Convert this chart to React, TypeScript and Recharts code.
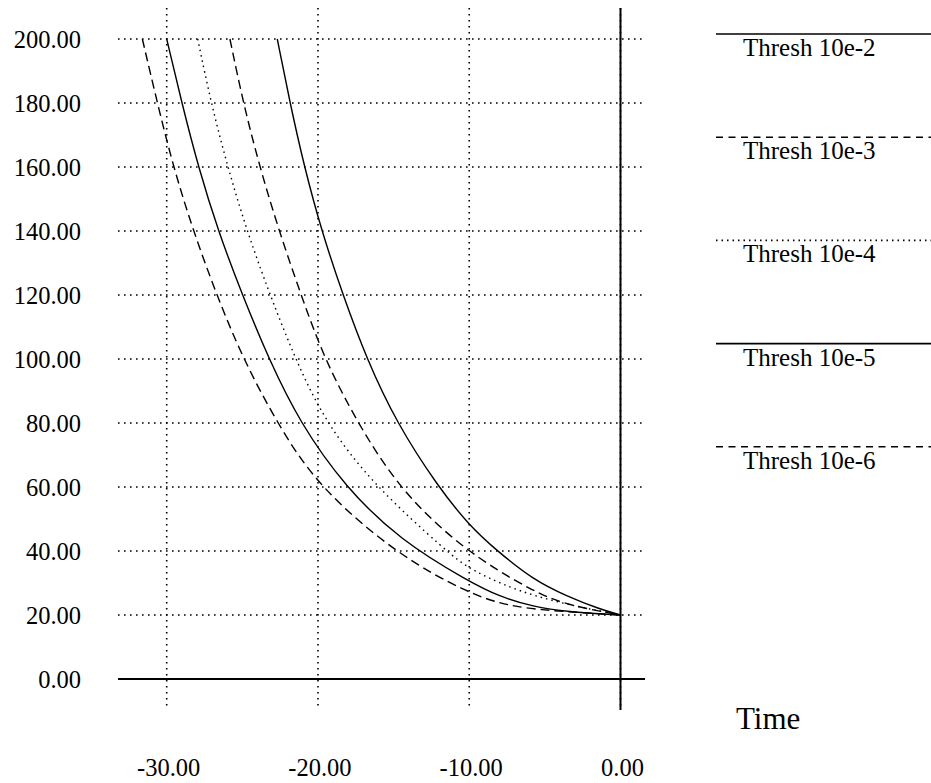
import {
  CartesianGrid,
  Legend,
  Line,
  LineChart,
  ReferenceLine,
  XAxis,
  YAxis,
} from "recharts";

const xTicks = [-30, -20, -10, 0];
const yTicks = [0, 20, 40, 60, 80, 100, 120, 140, 160, 180, 200];

// sorted by time
const thresh2 = [
  { x: -22.69, y: 200 },
  { x: -21.85, y: 180 },
  { x: -20.9, y: 160 },
  { x: -19.76, y: 140 },
  { x: -18.35, y: 120 },
  { x: -16.78, y: 100 },
  { x: -14.8, y: 80 },
  { x: -12.05, y: 60 },
  { x: -10, y: 48 },
  { x: -8.2, y: 40.2 },
  { x: -5.77, y: 31 },
  { x: -3.56, y: 25.9 },
  { x: -1.36, y: 21.8 },
  { x: 0, y: 20 },
];
const thresh3 = [
  { x: -25.82, y: 200 },
  { x: -24.94, y: 180 },
  { x: -23.85, y: 160 },
  { x: -22.57, y: 140 },
  { x: -21.12, y: 120 },
  { x: -19.58, y: 100 },
  { x: -17.38, y: 80 },
  { x: -14.58, y: 59 },
  { x: -10.3, y: 40 },
  { x: -5.77, y: 27.3 },
  { x: -3.56, y: 23.1 },
  { x: 0, y: 20 },
];
const thresh4 = [
  { x: -27.95, y: 200 },
  { x: -27.07, y: 180 },
  { x: -25.97, y: 160 },
  { x: -24.7, y: 140 },
  { x: -23.17, y: 120 },
  { x: -21.5, y: 100 },
  { x: -19.5, y: 80 },
  { x: -16.2, y: 60 },
  { x: -11.5, y: 40 },
  { x: -10, y: 34.1 },
  { x: -5.77, y: 25.3 },
  { x: 0, y: 20 },
];
const thresh5 = [
  { x: -30, y: 200 },
  { x: -29, y: 180 },
  { x: -27.91, y: 160 },
  { x: -26.6, y: 140 },
  { x: -25, y: 120 },
  { x: -23.25, y: 100 },
  { x: -21.19, y: 80 },
  { x: -18.2, y: 60 },
  { x: -14.58, y: 43.4 },
  { x: -10, y: 30.4 },
  { x: -7.97, y: 25.7 },
  { x: -5.77, y: 22.6 },
  { x: -3.56, y: 21 },
  { x: 0, y: 20 },
];
const thresh6 = [
  { x: -31.61, y: 200 },
  { x: -30.62, y: 180 },
  { x: -29.56, y: 160 },
  { x: -28.24, y: 140 },
  { x: -26.7, y: 120 },
  { x: -24.95, y: 100 },
  { x: -22.7, y: 80 },
  { x: -20, y: 60 },
  { x: -14.58, y: 38.2 },
  { x: -10, y: 26.8 },
  { x: -7.97, y: 23.6 },
  { x: -5.77, y: 21.6 },
  { x: 0, y: 20 },
];

const DASHED = "9 5";
const DOTTED = "1.5 4";

const series = [
  { name: "Thresh 10e-2", data: thresh2, dash: undefined },
  { name: "Thresh 10e-3", data: thresh3, dash: DASHED },
  { name: "Thresh 10e-4", data: thresh4, dash: DOTTED },
  { name: "Thresh 10e-5", data: thresh5, dash: undefined },
  { name: "Thresh 10e-6", data: thresh6, dash: DASHED },
];

const FONT = "Liberation Serif, DejaVu Serif, Times New Roman, serif";

function XTick({ x, y, payload }: any) {
  return (
    <text
      x={x + 2}
      y={y + 65.5}
      textAnchor="middle"
      style={{ fontFamily: FONT, fontSize: 24.5 }}
      fill="#000"
    >
      {Number(payload.value).toFixed(2)}
    </text>
  );
}

function YTick({ x, y, payload }: any) {
  return (
    <text
      x={x}
      y={y + 9.3}
      textAnchor="end"
      style={{ fontFamily: FONT, fontSize: 24.5 }}
      fill="#000"
    >
      {Number(payload.value).toFixed(2)}
    </text>
  );
}

function LegendBox() {
  return (
    <svg width={215} height={480} style={{ display: "block" }}>
      {series.map((s, i) => {
        const ly = 34 + i * 103.2;
        const dash = s.dash === DASHED ? "7 5.5" : s.dash;
        return (
          <g key={s.name}>
            <line
              x1={0}
              x2={215}
              y1={ly}
              y2={ly}
              stroke="#000"
              strokeWidth={1.6}
              strokeDasharray={dash}
            />
            <text
              x={27}
              y={ly + 22}
              style={{ fontFamily: FONT, fontSize: 25 }}
              fill="#000"
            >
              {s.name}
            </text>
          </g>
        );
      })}
    </svg>
  );
}

function TimeLabel({ viewBox }: any) {
  return (
    <text
      x={viewBox.x + viewBox.width + 91}
      y={728.5}
      style={{ fontFamily: FONT, fontSize: 31 }}
      fill="#000"
    >
      Time
    </text>
  );
}

export default function App() {
  return (
    <div style={{ position: "absolute", left: 0, top: 0, background: "#fff" }}>
      <LineChart
        width={931}
        height={783}
        margin={{ top: 8, right: 286, bottom: 0, left: 0 }}
      >
        <CartesianGrid
          stroke="#000"
          strokeWidth={1.6}
          strokeDasharray="1.6 4.4"
          syncWithTicks
        />
        <XAxis
          type="number"
          dataKey="x"
          domain={[-33.22, 1.62]}
          ticks={xTicks}
          allowDataOverflow
          axisLine={false}
          tickLine={false}
          tickSize={0}
          tickMargin={0}
          height={73}
          tick={<XTick />}
          label={<TimeLabel />}
          interval={0}
        />
        <YAxis
          type="number"
          dataKey="y"
          domain={[-9.69, 209.69]}
          ticks={yTicks}
          allowDataOverflow
          axisLine={false}
          tickLine={false}
          tickSize={0}
          tickMargin={37}
          width={118}
          tick={<YTick />}
          interval={0}
        />
        <ReferenceLine y={0} stroke="#000" strokeWidth={2} />
        <ReferenceLine x={0} stroke="#000" strokeWidth={2} />
        {series.map((s) => (
          <Line
            key={s.name}
            name={s.name}
            data={s.data}
            dataKey="y"
            type="basis"
            stroke="#000"
            strokeWidth={1.4}
            strokeDasharray={s.dash}
            dot={false}
            activeDot={false}
            isAnimationActive={false}
          />
        ))}
        <Legend
          layout="vertical"
          align="center"
          verticalAlign="middle"
          wrapperStyle={{ left: 716, top: 0, width: 215 }}
          content={<LegendBox />}
        />
      </LineChart>
    </div>
  );
}
